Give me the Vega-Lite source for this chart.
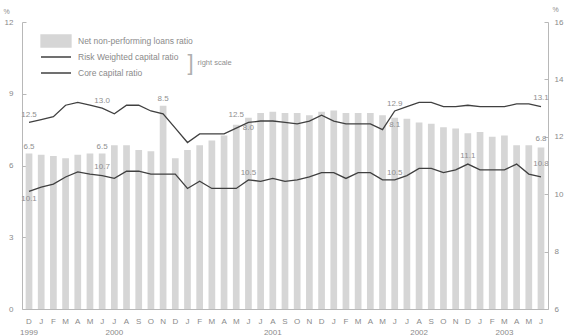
{
  "$schema": "https://vega.github.io/schema/vega-lite/v6.json",
  "width": 526,
  "height": 287,
  "autosize": {"type": "none"},
  "padding": {"left": 22, "top": 22, "right": 16, "bottom": 26},
  "config": {
    "view": {"stroke": null},
    "font": "Liberation Sans",
    "axis": {"labelColor": "#8a8a8a", "labelFontSize": 8, "domainColor": "#b8b8b8", "tickColor": "#b8b8b8", "grid": false, "titleColor": "#8a8a8a", "titleFontWeight": "normal", "titleFontSize": 7},
    "text": {"font": "Liberation Sans", "fontSize": 8, "color": "#8f8f8f"}
  },
  "datasets": {
    "monthly": [
      {"month": "1999-12", "npl": 6.5, "rwcr": 12.5, "core": 10.1},
      {"month": "2000-01", "npl": 6.45, "rwcr": 12.6, "core": 10.25},
      {"month": "2000-02", "npl": 6.4, "rwcr": 12.7, "core": 10.35},
      {"month": "2000-03", "npl": 6.3, "rwcr": 13.1, "core": 10.6},
      {"month": "2000-04", "npl": 6.45, "rwcr": 13.2, "core": 10.78},
      {"month": "2000-05", "npl": 6.5, "rwcr": 13.1, "core": 10.7},
      {"month": "2000-06", "npl": 6.5, "rwcr": 13.0, "core": 10.65},
      {"month": "2000-07", "npl": 6.85, "rwcr": 12.8, "core": 10.55},
      {"month": "2000-08", "npl": 6.85, "rwcr": 13.1, "core": 10.8},
      {"month": "2000-09", "npl": 6.65, "rwcr": 13.1, "core": 10.8},
      {"month": "2000-10", "npl": 6.6, "rwcr": 12.9, "core": 10.7},
      {"month": "2000-11", "npl": 8.5, "rwcr": 12.8, "core": 10.7},
      {"month": "2000-12", "npl": 6.3, "rwcr": 12.3, "core": 10.7},
      {"month": "2001-01", "npl": 6.65, "rwcr": 11.8, "core": 10.2},
      {"month": "2001-02", "npl": 6.85, "rwcr": 12.1, "core": 10.45},
      {"month": "2001-03", "npl": 7.05, "rwcr": 12.1, "core": 10.2},
      {"month": "2001-04", "npl": 7.25, "rwcr": 12.1, "core": 10.2},
      {"month": "2001-05", "npl": 7.7, "rwcr": 12.3, "core": 10.2},
      {"month": "2001-06", "npl": 8.0, "rwcr": 12.5, "core": 10.5},
      {"month": "2001-07", "npl": 8.2, "rwcr": 12.55, "core": 10.45},
      {"month": "2001-08", "npl": 8.25, "rwcr": 12.55, "core": 10.55},
      {"month": "2001-09", "npl": 8.2, "rwcr": 12.5, "core": 10.45},
      {"month": "2001-10", "npl": 8.2, "rwcr": 12.45, "core": 10.5},
      {"month": "2001-11", "npl": 8.1, "rwcr": 12.55, "core": 10.6},
      {"month": "2001-12", "npl": 8.25, "rwcr": 12.75, "core": 10.75},
      {"month": "2002-01", "npl": 8.3, "rwcr": 12.55, "core": 10.75},
      {"month": "2002-02", "npl": 8.2, "rwcr": 12.45, "core": 10.55},
      {"month": "2002-03", "npl": 8.2, "rwcr": 12.45, "core": 10.75},
      {"month": "2002-04", "npl": 8.2, "rwcr": 12.45, "core": 10.75},
      {"month": "2002-05", "npl": 8.1, "rwcr": 12.25, "core": 10.5},
      {"month": "2002-06", "npl": 8.0, "rwcr": 12.9, "core": 10.5},
      {"month": "2002-07", "npl": 7.95, "rwcr": 13.05, "core": 10.65},
      {"month": "2002-08", "npl": 7.8, "rwcr": 13.2, "core": 10.9},
      {"month": "2002-09", "npl": 7.75, "rwcr": 13.2, "core": 10.9},
      {"month": "2002-10", "npl": 7.6, "rwcr": 13.05, "core": 10.75},
      {"month": "2002-11", "npl": 7.55, "rwcr": 13.05, "core": 10.85},
      {"month": "2002-12", "npl": 7.35, "rwcr": 13.1, "core": 11.05},
      {"month": "2003-01", "npl": 7.4, "rwcr": 13.05, "core": 10.85},
      {"month": "2003-02", "npl": 7.2, "rwcr": 13.05, "core": 10.85},
      {"month": "2003-03", "npl": 7.25, "rwcr": 13.05, "core": 10.85},
      {"month": "2003-04", "npl": 6.85, "rwcr": 13.15, "core": 11.05},
      {"month": "2003-05", "npl": 6.85, "rwcr": 13.15, "core": 10.7},
      {"month": "2003-06", "npl": 6.75, "rwcr": 13.05, "core": 10.6}
    ],
    "labels": [
      {"month": "1999-12", "series": "npl", "value": 6.5, "text": "6.5"},
      {"month": "2000-06", "series": "npl", "value": 6.5, "text": "6.5"},
      {"month": "2000-11", "series": "npl", "value": 8.5, "text": "8.5"},
      {"month": "2003-06", "series": "npl", "value": 6.8, "text": "6.8"},
      {"month": "2001-06", "series": "npl_in", "value": 8.0, "text": "8.0"},
      {"month": "2002-06", "series": "npl_in", "value": 8.1, "text": "8.1"},
      {"month": "1999-12", "series": "ratio", "value": 12.5, "text": "12.5"},
      {"month": "2000-06", "series": "ratio", "value": 13.0, "text": "13.0"},
      {"month": "2001-05", "series": "ratio", "value": 12.5, "text": "12.5"},
      {"month": "2002-06", "series": "ratio", "value": 12.9, "text": "12.9"},
      {"month": "2003-06", "series": "ratio", "value": 13.1, "text": "13.1"},
      {"month": "2000-06", "series": "ratio", "value": 10.7, "text": "10.7"},
      {"month": "2001-06", "series": "ratio", "value": 10.5, "text": "10.5"},
      {"month": "2002-06", "series": "ratio", "value": 10.5, "text": "10.5"},
      {"month": "2002-12", "series": "ratio", "value": 11.1, "text": "11.1"},
      {"month": "2003-06", "series": "ratio", "value": 10.8, "text": "10.8"},
      {"month": "1999-12", "series": "ratio_below", "value": 10.1, "text": "10.1"},
      {"month": "2001-01", "series": "note", "value": 10.3, "text": "right scale"}
    ]
  },
  "encoding": {
    "x": {
      "field": "month",
      "type": "ordinal",
      "sort": null,
      "scale": {
        "domain": ["1999-12","2000-01","2000-02","2000-03","2000-04","2000-05","2000-06","2000-07","2000-08","2000-09","2000-10","2000-11","2000-12","2001-01","2001-02","2001-03","2001-04","2001-05","2001-06","2001-07","2001-08","2001-09","2001-10","2001-11","2001-12","2002-01","2002-02","2002-03","2002-04","2002-05","2002-06","2002-07","2002-08","2002-09","2002-10","2002-11","2002-12","2003-01","2003-02","2003-03","2003-04","2003-05","2003-06"],
        "paddingInner": 0.45,
        "paddingOuter": 0.3
      },
      "axis": {
        "title": null,
        "ticks": false,
        "labelAngle": 0,
        "labelBaseline": "top",
        "labelPadding": 8,
        "labelLineHeight": 11,
        "labelExpr": "indexof(['1999-12','2000-07','2001-08','2002-08','2003-03'], datum.value) >= 0 ? [substring('JFMAMJJASOND', toNumber(substring(datum.value,5,7))-1, toNumber(substring(datum.value,5,7))), substring(datum.value,0,4)] : substring('JFMAMJJASOND', toNumber(substring(datum.value,5,7))-1, toNumber(substring(datum.value,5,7)))"
      }
    }
  },
  "layer": [
    {
      "data": {"name": "monthly"},
      "mark": {"type": "bar"},
      "encoding": {
        "y": {
          "field": "npl", "type": "quantitative",
          "scale": {"domain": [0, 12], "nice": false, "zero": true},
          "axis": {"orient": "left", "values": [0, 3, 6, 9, 12], "title": "%", "titleAngle": 0, "titleX": -19, "titleY": -11, "titleAlign": "left", "titleBaseline": "middle", "tickSize": -4, "labelPadding": 13}
        },
        "color": {
          "datum": "Net non-performing loans ratio",
          "type": "nominal",
          "scale": {"domain": ["Net non-performing loans ratio", "Risk Weighted capital ratio", "Core capital ratio"], "range": ["#d6d6d6", "#404040", "#404040"]},
          "legend": {
            "orient": "none", "legendX": 18, "legendY": 11, "title": null,
            "labelFontSize": 8.5, "labelColor": "#8a8a8a", "labelOffset": 6,
            "symbolSize": 900, "clipHeight": 16, "rowPadding": 0, "symbolStrokeWidth": 1.3,
            "encode": {"symbols": {"update": {
              "shape": {"signal": "datum.value === 'Net non-performing loans ratio' ? 'M-1,-0.4H1V0.4H-1Z' : 'M-1,0H1'"},
              "fill": {"signal": "datum.value === 'Net non-performing loans ratio' ? '#d6d6d6' : 'transparent'"},
              "stroke": {"signal": "datum.value === 'Net non-performing loans ratio' ? 'transparent' : '#404040'"},
              "strokeWidth": {"value": 1.3},
              "opacity": {"value": 1}
            }}}
          }
        }
      }
    },
    {
      "data": {"name": "monthly"},
      "mark": {"type": "line", "strokeWidth": 1.3},
      "encoding": {
        "y": {
          "field": "rwcr", "type": "quantitative",
          "scale": {"domain": [6, 16], "nice": false, "zero": false},
          "axis": {"orient": "right", "values": [6, 8, 10, 12, 14, 16], "title": "%", "titleAngle": 0, "titleX": 4, "titleY": -13, "titleAlign": "left", "titleBaseline": "middle", "tickSize": -4, "labelPadding": 10}
        },
        "color": {"datum": "Risk Weighted capital ratio", "type": "nominal"}
      }
    },
    {
      "data": {"name": "monthly"},
      "mark": {"type": "line", "strokeWidth": 1.3},
      "encoding": {
        "y": {"field": "core", "type": "quantitative", "scale": {"domain": [6, 16], "nice": false, "zero": false}, "axis": null},
        "color": {"datum": "Core capital ratio", "type": "nominal"}
      }
    },
    {
      "data": {"name": "labels"},
      "transform": [{"filter": "datum.series === 'npl'"}],
      "mark": {"type": "text", "dy": -7, "baseline": "middle"},
      "encoding": {
        "y": {"field": "value", "type": "quantitative", "scale": {"domain": [0, 12], "nice": false, "zero": true}, "axis": null},
        "text": {"field": "text"}
      }
    },
    {
      "data": {"name": "labels"},
      "transform": [{"filter": "datum.series === 'npl_in'"}],
      "mark": {"type": "text", "dy": 10, "baseline": "middle"},
      "encoding": {
        "y": {"field": "value", "type": "quantitative", "scale": {"domain": [0, 12], "nice": false, "zero": true}, "axis": null},
        "text": {"field": "text"}
      }
    },
    {
      "data": {"name": "labels"},
      "transform": [{"filter": "datum.series === 'ratio'"}],
      "mark": {"type": "text", "dy": -7, "baseline": "middle"},
      "encoding": {
        "y": {"field": "value", "type": "quantitative", "scale": {"domain": [6, 16], "nice": false, "zero": false}, "axis": null},
        "text": {"field": "text"}
      }
    },
    {
      "data": {"name": "labels"},
      "transform": [{"filter": "datum.series === 'ratio_below'"}],
      "mark": {"type": "text", "dy": 8, "baseline": "middle"},
      "encoding": {
        "y": {"field": "value", "type": "quantitative", "scale": {"domain": [6, 16], "nice": false, "zero": false}, "axis": null},
        "text": {"field": "text"}
      }
    },
    {
      "data": {"name": "labels"},
      "transform": [{"filter": "datum.series === 'note'"}],
      "mark": {"type": "text", "dx": 10, "align": "left", "baseline": "middle", "fontSize": 7.5},
      "encoding": {
        "y": {"field": "value", "type": "quantitative", "scale": {"domain": [0, 12], "nice": false, "zero": true}, "axis": null},
        "text": {"field": "text"}
      }
    },
    {
      "data": {"name": "labels"},
      "transform": [{"filter": "datum.series === 'note'"}],
      "mark": {"type": "text", "dx": 3, "align": "center", "baseline": "middle", "fontSize": 22, "fontWeight": 100, "color": "#b0b0b0"},
      "encoding": {
        "y": {"field": "value", "type": "quantitative", "scale": {"domain": [0, 12], "nice": false, "zero": true}, "axis": null},
        "text": {"value": "]"}
      }
    }
  ],
  "resolve": {"scale": {"y": "independent"}}
}
